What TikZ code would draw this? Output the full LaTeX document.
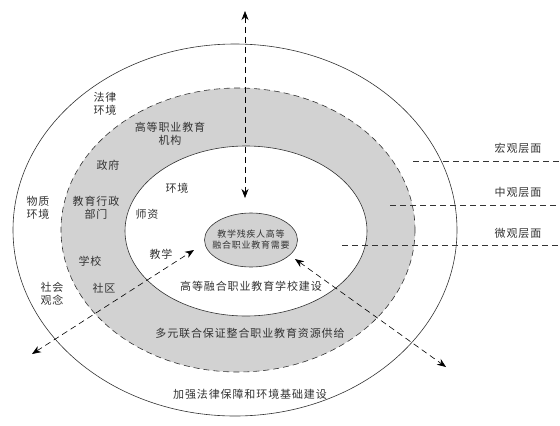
\documentclass[tikz,border=0pt]{standalone}
\usepackage{fontspec}
\newfontfamily\cjk[LetterSpace=8]{Noto Sans CJK SC}
\usetikzlibrary{arrows.meta,shapes.geometric}
\definecolor{ringgray}{HTML}{D2D2D2}
\definecolor{ink}{HTML}{333333}
\tikzset{
  lbl/.style={font=\cjk\fontsize{11}{13}\selectfont, text=ink, align=center, inner sep=0pt},
  small/.style={font=\cjk\fontsize{9}{11}\selectfont, text=ink, align=center, inner sep=0pt},
  dashline/.style={draw=ink, line width=0.6pt, dash pattern=on 6pt off 4pt},
  dasharrow/.style={draw=black, line width=0.6pt, dash pattern=on 6pt off 4pt, {Stealth[length=9pt,width=7pt]}-{Stealth[length=9pt,width=7pt]}},
  ring/.style={draw=ink, line width=0.6pt}
}
\begin{document}
\begin{tikzpicture}[x=1pt,y=-1pt]
\useasboundingbox (0,0) rectangle (560,426);
% outer ellipse
\draw[ring] (235,230) ellipse [x radius=222, y radius=186];
% gray ring
\fill[ringgray] (238,230) ellipse [x radius=177, y radius=142];
\draw[dashline] (238,230) ellipse [x radius=177, y radius=142];
% inner white
\draw[ring, fill=white] (246,231) ellipse [x radius=121, y radius=85];
% centre
\node[ellipse, ring, fill=ringgray, minimum width=93pt, minimum height=54pt, inner sep=0pt] (core) at (251,240) {};
\node[small] (coretxt) at (251,240) {教学残疾人高等\\融合职业教育需要};

% level lines
\coordinate (m1a) at (413,161); \coordinate (m1b) at (560,161);
\coordinate (m2a) at (390,205); \coordinate (m2b) at (560,205);
\coordinate (m3a) at (342,245); \coordinate (m3b) at (560,245);
\draw[dashline] (m1a) -- (m1b);
\draw[dashline] (m2a) -- (m2b);
\draw[dashline] (m3a) -- (m3b);
\node[lbl] (macro) at (518,148) {宏观层面};
\node[lbl] (meso) at (518,192) {中观层面};
\node[lbl] (micro) at (518,233) {微观层面};

% arrows
\coordinate (vt) at (245,11); \coordinate (vb) at (245,198);
\draw[dasharrow] (vt) -- (vb);
\coordinate (la) at (32,354); \coordinate (lb) at (194,250);
\draw[dasharrow] (la) -- (lb);
\coordinate (ra) at (295,259); \coordinate (rb) at (446,367);
\draw[dasharrow] (ra) -- (rb);

% labels
\node[lbl] (law) at (105,104) {法律\\环境};
\node[lbl] (inst) at (170,134) {高等职业教育\\机构};
\node[lbl] (gov) at (108,165) {政府};
\node[lbl] (env) at (177,188) {环境};
\node[lbl] (phys) at (38,208) {物质\\环境};
\node[lbl] (admin) at (96,208) {教育行政\\部门};
\node[lbl] (teach) at (147,214) {师资};
\node[lbl] (jiao) at (161,254) {教学};
\node[lbl] (school) at (90,261) {学校};
\node[lbl] (soc) at (52,294) {社会\\观念};
\node[lbl] (comm) at (104,288) {社区};
\node[lbl] (t1) at (251,286) {高等融合职业教育学校建设};
\node[lbl] (t2) at (250,333) {多元联合保证整合职业教育资源供给};
\node[lbl] (t3) at (250,394) {加强法律保障和环境基础建设};
\end{tikzpicture}
\end{document}
